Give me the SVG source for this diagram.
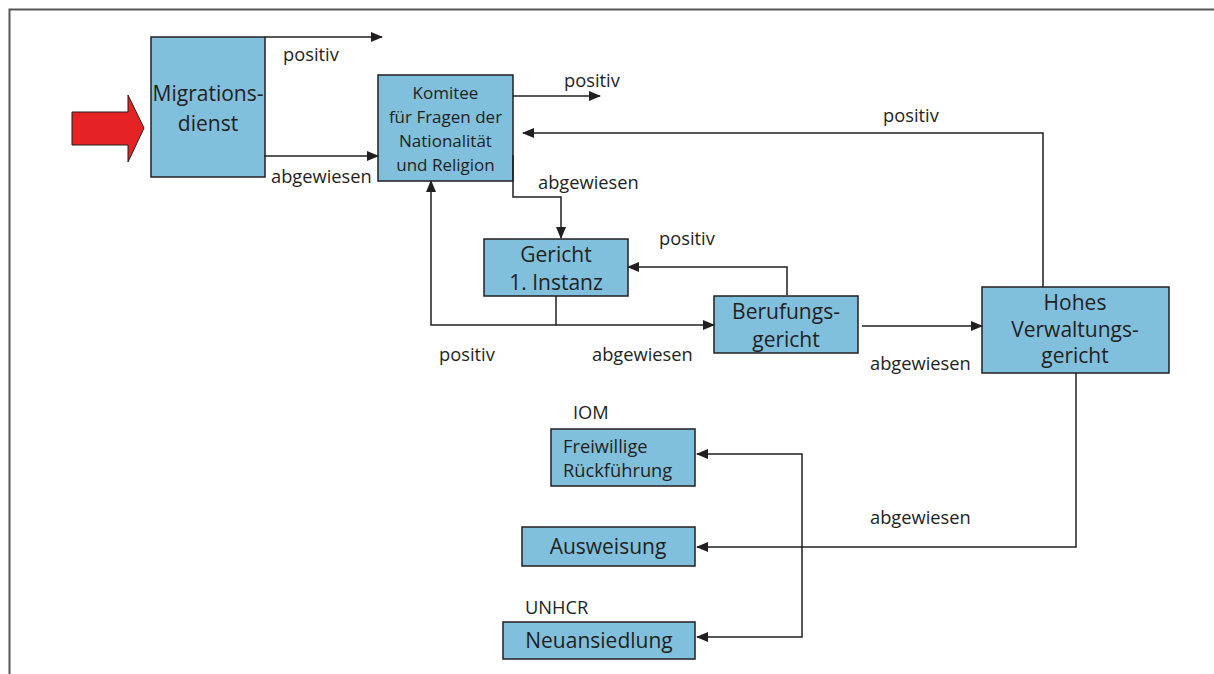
<svg xmlns="http://www.w3.org/2000/svg" width="1214" height="674" viewBox="0 0 1214 674">
<defs>
<style>
.box{fill:#80c0dd;stroke:#231f20;stroke-width:1.5}
.t{font-family:"Open Sans","Liberation Sans",sans-serif;fill:#231f20}
.n{font-size:21px}
.s{font-size:17px}
.l{font-size:18.3px}
.c{stroke:#231f20;stroke-width:1.5;fill:none}
</style>
<marker id="ah" markerWidth="12" markerHeight="10" refX="11" refY="5" orient="auto" markerUnits="userSpaceOnUse">
<path d="M0,0 L12,5 L0,10 Z" fill="#231f20"/>
</marker>
</defs>
<rect width="1214" height="674" fill="#fff"/>
<path d="M9.5,674 V9.5 H1214" stroke="#555" stroke-width="2" fill="none"/>

<g id="input-arrow">
<path d="M72,112 H128 V95 L144,128 L128,162 V145 H72 Z" fill="#e62324" stroke="#231f20" stroke-width="1"/>
</g>

<g id="migrationsdienst">
<rect class="box" x="151" y="37" width="114" height="140"/>
<text class="t n" x="208" y="101" text-anchor="middle">Migrations-</text>
<text class="t n" x="208" y="131" text-anchor="middle">dienst</text>
</g>

<g id="komitee">
<rect class="box" x="378" y="75" width="135" height="106"/>
<text class="t s" x="445.5" y="99" text-anchor="middle">Komitee</text>
<text class="t s" x="445.5" y="123" text-anchor="middle">für Fragen der</text>
<text class="t s" x="445.5" y="147" text-anchor="middle">Nationalität</text>
<text class="t s" x="445.5" y="171" text-anchor="middle">und Religion</text>
</g>

<g id="gericht">
<rect class="box" x="484" y="239" width="144" height="57"/>
<text class="t n" x="556" y="262" text-anchor="middle">Gericht</text>
<text class="t n" x="556" y="290" text-anchor="middle">1. Instanz</text>
</g>

<g id="berufungsgericht">
<rect class="box" x="714" y="296" width="144" height="57"/>
<text class="t n" x="786" y="319" text-anchor="middle">Berufungs-</text>
<text class="t n" x="786" y="347" text-anchor="middle">gericht</text>
</g>

<g id="hohes">
<rect class="box" x="982" y="287" width="187" height="86"/>
<text class="t n" x="1075" y="310" text-anchor="middle">Hohes</text>
<text class="t n" x="1075" y="337" text-anchor="middle">Verwaltungs-</text>
<text class="t n" x="1075" y="363" text-anchor="middle">gericht</text>
</g>

<g id="freiwillige">
<text class="t l" x="573" y="419">IOM</text>
<rect class="box" x="551" y="429" width="144" height="57"/>
<text class="t l" x="563" y="453">Freiwillige</text>
<text class="t l" x="563" y="477">Rückführung</text>
</g>

<g id="ausweisung">
<rect class="box" x="522" y="527" width="173" height="39"/>
<text class="t n" x="608" y="554" text-anchor="middle">Ausweisung</text>
</g>

<g id="neuansiedlung">
<text class="t l" x="525" y="614">UNHCR</text>
<rect class="box" x="503" y="622" width="192" height="37"/>
<text class="t n" x="599" y="648" text-anchor="middle">Neuansiedlung</text>
</g>

<g id="connectors">
<path class="c" d="M265,37 H382" marker-end="url(#ah)"/>
<path class="c" d="M264,156 H378" marker-end="url(#ah)"/>
<path class="c" d="M513,96 H600" marker-end="url(#ah)"/>
<path class="c" d="M1043,287 V133 H523" marker-end="url(#ah)"/>
<path class="c" d="M513,155 V197 H561 V238" marker-end="url(#ah)"/>
<path class="c" d="M787,295 V267 H628" marker-end="url(#ah)"/>
<path class="c" d="M556,296 V325 H431 V181" marker-end="url(#ah)"/>
<path class="c" d="M556,325 H714" marker-end="url(#ah)"/>
<path class="c" d="M862,326 H982" marker-end="url(#ah)"/>
<path class="c" d="M1076,373 V547 H697" marker-end="url(#ah)"/>
<path class="c" d="M802,547 V454 H697" marker-end="url(#ah)"/>
<path class="c" d="M802,547 V637 H697" marker-end="url(#ah)"/>
</g>

<g id="labels">
<text class="t l" x="283" y="61">positiv</text>
<text class="t l" x="271" y="183">abgewiesen</text>
<text class="t l" x="564" y="87">positiv</text>
<text class="t l" x="883" y="122">positiv</text>
<text class="t l" x="538" y="189">abgewiesen</text>
<text class="t l" x="659" y="245">positiv</text>
<text class="t l" x="439" y="361">positiv</text>
<text class="t l" x="592" y="361">abgewiesen</text>
<text class="t l" x="870" y="370">abgewiesen</text>
<text class="t l" x="870" y="524">abgewiesen</text>
</g>
</svg>
